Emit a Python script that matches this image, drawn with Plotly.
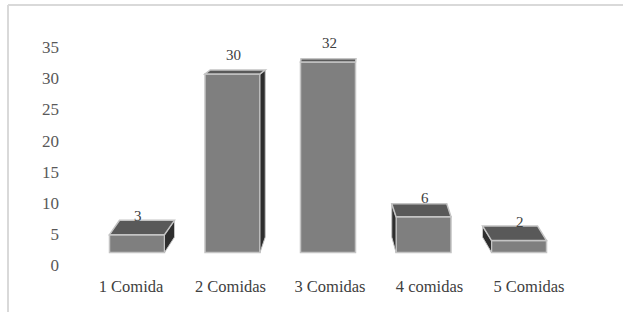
import plotly.graph_objects as go

# ---- data ----
categories = ["1 Comida", "2 Comidas", "3 Comidas", "4 comidas", "5 Comidas"]
values = [3, 30, 32, 6, 2]
y_ticks = [0, 5, 10, 15, 20, 25, 30, 35]

positions = list(range(len(categories)))

# ---- style / pseudo-3D perspective (in data units) ----
BAR_W = 0.576
VX, VY = 2.105, 40.76      # vanishing point
KX, KY = 0.0497, 0.0636    # depth factors
FRONT = "#7f7f7f"
TOP = "#595959"
SIDE = "#2e2e2e"
EDGE = "#c4c4c4"
FONT = "Liberation Serif, Times New Roman, serif"

fig = go.Figure()
fig.add_trace(go.Bar(
    x=positions, y=values, width=BAR_W,
    marker=dict(color=FRONT, line=dict(color=EDGE, width=1.5)),
    hoverinfo="skip", showlegend=False,
))
# dummy trace to carry the label axes
fig.add_trace(go.Scatter(x=[0], y=[0], xaxis="x2", yaxis="y2", mode="markers",
                         marker=dict(opacity=0), hoverinfo="skip", showlegend=False))

shapes = []
annotations = []
for xi, v in zip(positions, values):
    x0, x1 = xi - BAR_W / 2, xi + BAR_W / 2
    dx = KX * (VX - xi)
    dy = KY * (VY - v)
    dy0 = KY * VY
    sx = x1 if dx > 0 else x0
    if abs(dx) > 0.01:
        shapes.append(dict(
            type="path", xref="x", yref="y", layer="above",
            path=f"M {sx},0 L {sx},{v} L {sx+dx},{v+dy} L {sx+dx},{dy0} Z",
            fillcolor=SIDE, line=dict(color=EDGE, width=1),
        ))
    shapes.append(dict(
        type="path", xref="x", yref="y", layer="above",
        path=f"M {x0},{v} L {x1},{v} L {x1+dx},{v+dy} L {x0+dx},{v+dy} Z",
        fillcolor=TOP, line=dict(color=EDGE, width=1.5),
    ))
    annotations.append(dict(
        x=xi, y=v, xref="x", yref="y", text=str(v),
        showarrow=False, yanchor="middle", yshift=19, xshift=1,
        font=dict(family=FONT, size=15, color="#404040"),
    ))

# chart border (top and left edges)
shapes.append(dict(type="line", xref="paper", yref="paper",
                   x0=-0.117, x1=1.2, y0=1.06, y1=1.06,
                   line=dict(color="#d9d9d9", width=2)))
shapes.append(dict(type="line", xref="paper", yref="paper",
                   x0=-0.117, x1=-0.117, y0=1.06, y1=-0.3,
                   line=dict(color="#d9d9d9", width=2)))

fig.update_layout(
    width=623, height=312,
    margin=dict(l=70, r=23, t=20, b=42),
    paper_bgcolor="white", plot_bgcolor="white",
    shapes=shapes, annotations=annotations,
    bargap=0.424,
    xaxis=dict(range=[-0.7016, 4.848], showticklabels=False, showgrid=False,
               zeroline=False, showline=False, fixedrange=True),
    yaxis=dict(range=[-2.941, 39.08], showticklabels=False, showgrid=False,
               zeroline=False, showline=False, fixedrange=True),
    xaxis2=dict(overlaying="x", side="bottom", range=[-0.6131, 4.7136],
                tickmode="array", tickvals=positions, ticktext=categories,
                showgrid=False, zeroline=False, showline=False, ticks="",
                ticklabelstandoff=4, fixedrange=True,
                tickfont=dict(family=FONT, size=16.5, color="#404040")),
    yaxis2=dict(overlaying="y", side="left", range=[-0.804, 39.39],
                tickmode="array", tickvals=y_ticks, ticktext=[str(t) for t in y_ticks],
                showgrid=False, zeroline=False, showline=False, ticks="",
                ticklabelstandoff=10, fixedrange=True,
                tickfont=dict(family=FONT, size=17, color="#595959")),
)

fig.write_html("out.html", config={"displayModeBar": False},
               post_script="document.body.style.margin='0';")
